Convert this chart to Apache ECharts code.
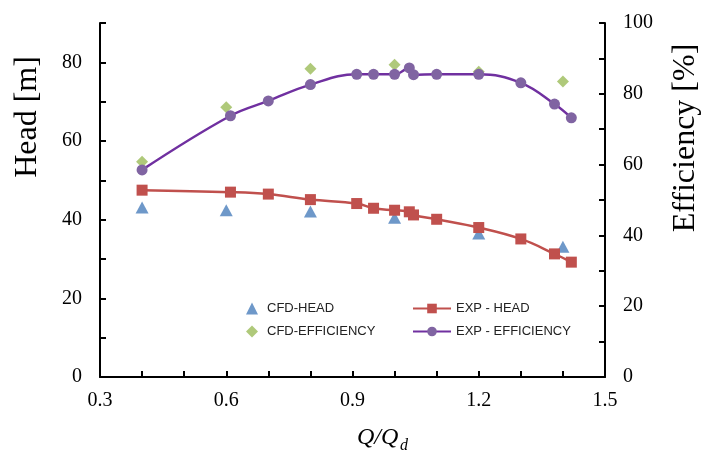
<!DOCTYPE html>
<html>
<head>
<meta charset="utf-8">
<script src="https://cdn.jsdelivr.net/npm/echarts@6/dist/echarts.min.js"></script>
<style>html,body{margin:0;padding:0;background:#fff}#c{width:705px;height:454px}</style>
</head>
<body>
<div id="c"></div>
<script>
const qExp = [0.4, 0.61, 0.7, 0.8, 0.91, 0.95, 1.0, 1.035, 1.045, 1.1, 1.2, 1.3, 1.38, 1.42];
const headExp = [47.5, 47.0, 46.5, 45.1, 44.1, 42.9, 42.4, 42.0, 41.2, 40.1, 38.0, 35.1, 31.3, 29.2];
const effExp = [58.5, 73.8, 78.0, 82.6, 85.5, 85.5, 85.5, 87.3, 85.4, 85.5, 85.5, 83.1, 77.1, 73.2];
const qCfd = [0.4, 0.6, 0.8, 1.0, 1.2, 1.4];
const headCfd = [43.1, 42.4, 42.1, 40.5, 36.5, 33.1];
const effCfd = [60.8, 76.2, 87.1, 88.2, 86.2, 83.5];
const xTickLabels = ['0.3', '0.6', '0.9', '1.2', '1.5'];
const headTickLabels = ['0', '20', '40', '60', '80'];
const effTickLabels = ['0', '20', '40', '60', '80', '100'];

const zip = (a, b) => a.map((v, i) => [v, b[i]]);
const serif = 'Liberation Serif';
const axisCommon = {
  axisLine: { show: true, lineStyle: { color: '#000', width: 2 } },
  axisTick: { show: true, inside: true, length: 6, lineStyle: { color: '#000', width: 2 } },
  splitLine: { show: false },
  axisLabel: { color: '#000', fontFamily: serif, fontSize: 20 }
};
const legendText = { fontFamily: 'Liberation Sans', fontSize: 13, color: '#222' };

const chart = echarts.init(document.getElementById('c'));
chart.setOption({
  animation: false,
  backgroundColor: '#fff',
  grid: { left: 100, right: 100, top: 23, bottom: 77 },
  xAxis: {
    type: 'value', min: 0.3, max: 1.5, interval: 0.1,
    ...axisCommon,
    axisLabel: { ...axisCommon.axisLabel, margin: 14,
      formatter: v => { const s = v.toFixed(1); return xTickLabels.includes(s) ? s : ''; } }
  },
  yAxis: [
    { type: 'value', min: 0, max: 90, interval: 10, position: 'left',
      ...axisCommon,
      axisLabel: { ...axisCommon.axisLabel, margin: 18,
        formatter: v => headTickLabels.includes(String(v)) ? String(v) : '' } },
    { type: 'value', min: 0, max: 100, interval: 10, position: 'right',
      ...axisCommon,
      axisLabel: { ...axisCommon.axisLabel, margin: 18,
        formatter: v => effTickLabels.includes(String(v)) ? String(v) : '' } }
  ],
  legend: [
    { data: ['CFD-HEAD', 'CFD-EFFICIENCY'], orient: 'vertical', left: 241, top: 297,
      itemWidth: 12, itemHeight: 12, itemGap: 10,
      textStyle: { ...legendText, padding: [0, 0, 0, 4] } },
    { data: ['EXP - HEAD', 'EXP - EFFICIENCY'], orient: 'vertical', left: 407, top: 297,
      itemWidth: 38, itemHeight: 12, itemGap: 10,
      textStyle: legendText }
  ],
  graphic: [
    { type: 'text', x: 28, y: 117, rotation: Math.PI / 2,
      style: { text: 'Head [m]', fontFamily: serif, fontSize: 32, fill: '#000', align: 'center', verticalAlign: 'middle' } },
    { type: 'text', x: 686, y: 138, rotation: Math.PI / 2,
      style: { text: 'Efficiency [%]', fontFamily: serif, fontSize: 32, fill: '#000', align: 'center', verticalAlign: 'middle' } },
    { type: 'text', x: 357, y: 438,
      style: { text: 'Q/Q', fontFamily: serif, fontStyle: 'italic', fontSize: 24, fill: '#000', align: 'left', verticalAlign: 'middle' } },
    { type: 'text', x: 400, y: 446,
      style: { text: 'd', fontFamily: serif, fontStyle: 'italic', fontSize: 16, fill: '#000', align: 'left', verticalAlign: 'middle' } }
  ],
  series: [
    { name: 'EXP - HEAD', type: 'line', yAxisIndex: 0, data: zip(qExp, headExp),
      smooth: 0.4, symbol: 'rect', symbolSize: 11, color: '#C0504D',
      lineStyle: { color: '#C0504D', width: 2.5 }, itemStyle: { color: '#C0504D' } },
    { name: 'EXP - EFFICIENCY', type: 'line', yAxisIndex: 1, data: zip(qExp, effExp),
      smooth: 0.4, symbol: 'circle', symbolSize: 11, color: '#7030A0',
      lineStyle: { color: '#7030A0', width: 2.5 }, itemStyle: { color: '#8064A2' } },
    { name: 'CFD-HEAD', type: 'scatter', yAxisIndex: 0, data: zip(qCfd, headCfd),
      symbol: 'triangle', symbolSize: [13, 12], itemStyle: { color: '#4A7EBB' } },
    { name: 'CFD-EFFICIENCY', type: 'scatter', yAxisIndex: 1, data: zip(qCfd, effCfd),
      symbol: 'diamond', symbolSize: [12, 12], itemStyle: { color: '#9BBB59' } }
  ]
});
</script>
</body>
</html>
